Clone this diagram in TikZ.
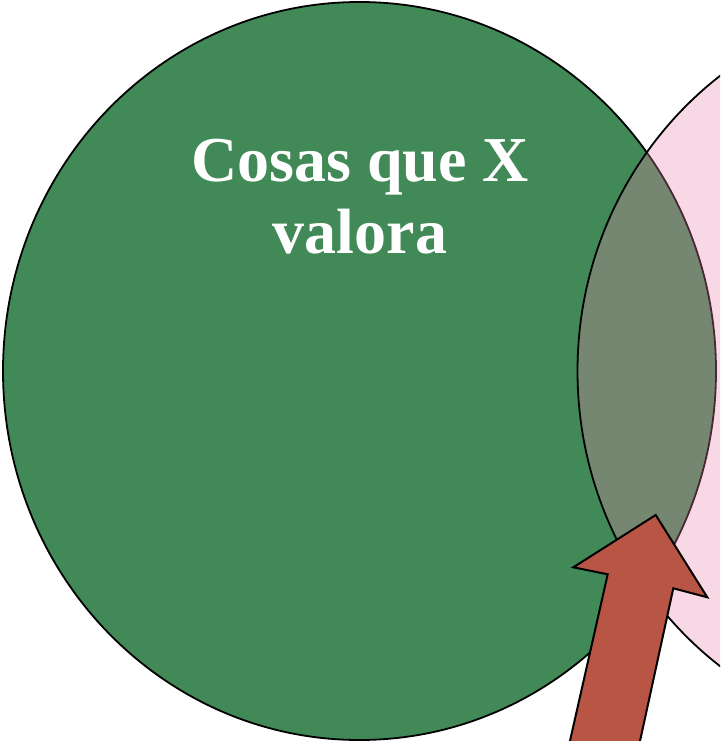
\documentclass[tikz,border=0pt]{standalone}
\usepackage{fontspec}
\setmainfont{Liberation Serif}
\usetikzlibrary{shapes.geometric}
\definecolor{vgreen}{RGB}{65,137,87}
\definecolor{vpink}{RGB}{235,132,171}
\definecolor{varrow}{RGB}{185,85,68}
\tikzset{
  greenset/.style={fill=vgreen, draw=black, line width=1.8pt},
  pinkset/.style={fill=vpink, fill opacity=0.31, draw=black, draw opacity=1, line width=1.8pt},
  bigarrow/.style={fill=varrow, draw=black, line width=2pt, line join=miter},
  label/.style={text=white, font=\fontsize{64}{72}\selectfont\bfseries, align=center, inner sep=0pt}
}
\begin{document}
\begin{tikzpicture}[x=1pt,y=-1pt]
\useasboundingbox (0,0) rectangle (720,741);
\clip (0,0) rectangle (720,741);
\fill[white] (0,0) rectangle (720,741);
\node[greenset, ellipse, minimum width=713pt, minimum height=738pt, inner sep=0pt] (green) at (359.5,371) {};
\node[pinkset, ellipse, minimum width=713pt, minimum height=738pt, inner sep=0pt] (pink) at (934,371) {};
\coordinate (a1) at (655.7,515);
\coordinate (a2) at (707.3,597.3);
\coordinate (a3) at (673.3,588.3);
\coordinate (a4) at (633.7,770);
\coordinate (a5) at (563.4,770);
\coordinate (a6) at (607.7,574.3);
\coordinate (a7) at (573.3,567.3);
\draw[bigarrow] (a1) -- (a2) -- (a3) -- (a4) -- (a5) -- (a6) -- (a7) -- cycle;
\node[label] (title) at (360,197) {Cosas que X\\valora};
\end{tikzpicture}
\end{document}
